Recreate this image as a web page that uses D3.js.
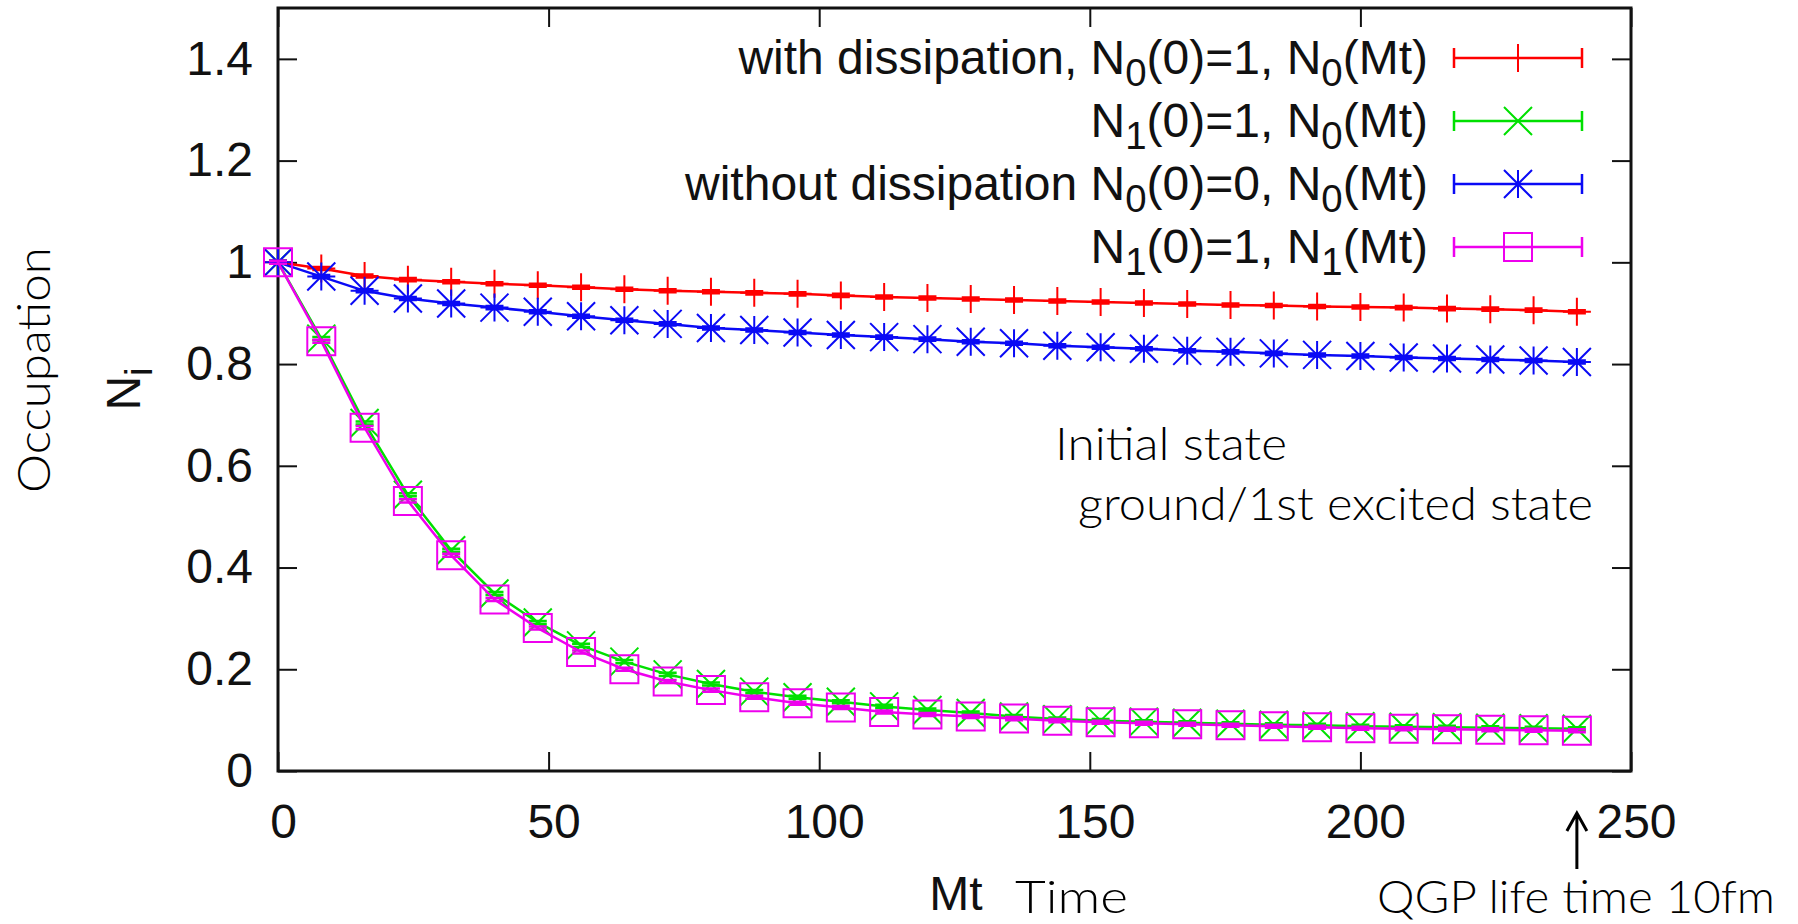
<!DOCTYPE html>
<html>
<head>
<meta charset="utf-8">
<script src="https://cdn.jsdelivr.net/npm/d3@7"></script>
<style>
  body { margin: 0; background: #fff; }
  svg { display: block; }
</style>
</head>
<body>
<script>
// Time grid (Mt) and occupations

var mt = [0, 8, 16, 24, 32, 40, 48, 56, 64, 72, 80, 88, 96, 104, 112, 120,
          128, 136, 144, 152, 160, 168, 176, 184, 192, 200, 208, 216, 224, 232, 240];

var withDissN0 = [1.000, 0.988, 0.973, 0.966, 0.962, 0.958, 0.955, 0.951, 0.947, 0.944,
                  0.942, 0.940, 0.938, 0.935, 0.932, 0.930, 0.928, 0.926, 0.924, 0.922,
                  0.920, 0.918, 0.916, 0.915, 0.913, 0.912, 0.911, 0.909, 0.908, 0.906, 0.903];

var excitedN0 = [1.000, 0.850, 0.684, 0.543, 0.434, 0.349, 0.292, 0.247, 0.215, 0.190,
                 0.171, 0.156, 0.145, 0.136, 0.127, 0.120, 0.114, 0.107, 0.102, 0.099,
                 0.097, 0.095, 0.093, 0.091, 0.090, 0.088, 0.087, 0.086, 0.085, 0.084, 0.083];

var noDissN0 = [1.000, 0.972, 0.944, 0.929, 0.919, 0.911, 0.903, 0.894, 0.886, 0.879,
                0.871, 0.867, 0.862, 0.857, 0.853, 0.849, 0.844, 0.841, 0.836, 0.833,
                0.830, 0.826, 0.824, 0.821, 0.818, 0.816, 0.813, 0.811, 0.809, 0.807, 0.804];

var excitedN1 = [1.000, 0.845, 0.675, 0.531, 0.424, 0.337, 0.281, 0.234, 0.200, 0.176,
                 0.159, 0.145, 0.133, 0.125, 0.116, 0.111, 0.107, 0.103, 0.099, 0.096,
                 0.094, 0.092, 0.090, 0.088, 0.086, 0.084, 0.083, 0.082, 0.081, 0.080, 0.079];

// error bars are tiny in the plot
var errBar = 0.003;

var legendLabels = [
  "with dissipation, N_0(0)=1, N_0(Mt)",
  "N_1(0)=1, N_0(Mt)",
  "without dissipation N_0(0)=0, N_0(Mt)",
  "N_1(0)=1, N_1(Mt)"
];

var xTicks = [0, 50, 100, 150, 200, 250];
var yTicks = [0, 0.2, 0.4, 0.6, 0.8, 1, 1.2, 1.4];

var series = [
  {values: withDissN0, color: "#ff0000", shape: "plus"},
  {values: excitedN0, color: "#00e000", shape: "cross"},
  {values: noDissN0, color: "#0a0af5", shape: "star"},
  {values: excitedN1, color: "#ee00ee", shape: "box"}
];

var width = 1798,
    height = 924;

var plot = {left: 278, right: 1631, top: 8, bottom: 771};
var gnuFont = "'Liberation Sans', Arial, sans-serif";
var pptFont = "Lato, 'Open Sans', sans-serif";

var x = d3.scaleLinear().domain([0, 250]).range([plot.left, plot.right]);
var y = d3.scaleLinear().domain([0, 1.5]).range([plot.bottom, plot.top]);

var svg = d3.select("body")
  .append("svg")
  .attr("width", width)
  .attr("height", height);

svg.append("rect")
  .attr("width", width)
  .attr("height", height)
  .style("fill", "#fff");

// axes, with gnuplot-style inward ticks mirrored on all sides
function styleAxis(g) {
  g.select(".domain").remove();
  g.selectAll(".tick line").attr("stroke", "#111").attr("stroke-width", 2);
  g.selectAll(".tick text")
    .attr("fill", "#111")
    .style("font-family", gnuFont)
    .style("font-size", "48px");
}

svg.append("g")
  .attr("transform", "translate(" + plot.left + ",0)")
  .call(d3.axisLeft(y).tickValues(yTicks).tickSize(-19).tickPadding(25)
    .tickFormat(function(d) { return d3.format("")(+d.toFixed(1)); }))
  .call(styleAxis);

svg.append("g")
  .attr("transform", "translate(" + plot.right + ",0)")
  .call(d3.axisRight(y).tickValues(yTicks).tickSize(-19).tickFormat(""))
  .call(styleAxis);

svg.append("g")
  .attr("transform", "translate(0," + plot.bottom + ")")
  .call(d3.axisBottom(x).tickValues(xTicks).tickSize(-19).tickPadding(33))
  .call(styleAxis)
  .selectAll(".tick text").attr("dx", 5);

svg.append("g")
  .attr("transform", "translate(0," + plot.top + ")")
  .call(d3.axisTop(x).tickValues(xTicks).tickSize(-19).tickFormat(""))
  .call(styleAxis);

svg.append("rect")
  .attr("x", plot.left)
  .attr("y", plot.top)
  .attr("width", plot.right - plot.left)
  .attr("height", plot.bottom - plot.top)
  .style("fill", "none")
  .style("stroke", "#111")
  .style("stroke-width", 3);

// point symbols
var ms = 14;
function markerPath(shape, cx, cy) {
  var plus = "M" + (cx - ms) + "," + cy + "h" + (2 * ms) + "M" + cx + "," + (cy - ms) + "v" + (2 * ms);
  var cross = "M" + (cx - ms) + "," + (cy - ms) + "l" + (2 * ms) + "," + (2 * ms) +
              "M" + (cx - ms) + "," + (cy + ms) + "l" + (2 * ms) + "," + (-2 * ms);
  if (shape == "plus") return plus;
  if (shape == "cross") return cross;
  if (shape == "star") return plus + cross;
  return "M" + (cx - ms) + "," + (cy - ms) + "h" + (2 * ms) + "v" + (2 * ms) + "h" + (-2 * ms) + "Z";
}

var line = d3.line()
  .x(function(d) { return x(d[0]); })
  .y(function(d) { return y(d[1]); });

series.forEach(function(s) {
  var pts = mt.map(function(t, i) { return [t, s.values[i]]; });
  var g = svg.append("g");

  g.append("path")
    .attr("d", line(pts))
    .style("fill", "none")
    .style("stroke", s.color)
    .style("stroke-width", 2.5);

  // error bars with caps
  g.selectAll(".err")
    .data(pts)
    .enter()
    .append("path")
    .attr("d", function(d) {
      var cx = x(d[0]), y0 = y(d[1] - errBar), y1 = y(d[1] + errBar);
      return "M" + cx + "," + y0 + "V" + y1 +
             "M" + (cx - 9) + "," + y0 + "h18M" + (cx - 9) + "," + y1 + "h18";
    })
    .style("fill", "none")
    .style("stroke", s.color)
    .style("stroke-width", 2.5);

  g.selectAll(".pt")
    .data(pts)
    .enter()
    .append("path")
    .attr("d", function(d) { return markerPath(s.shape, x(d[0]), y(d[1])); })
    .style("fill", "none")
    .style("stroke", s.color)
    .style("stroke-width", 2);
});

// text with "_c" subscripts
function subText(sel, str, fs) {
  var parts = str.split(/(_.)/);
  var shift = 0;
  parts.forEach(function(p) {
    if (p === "") return;
    if (p[0] == "_") {
      sel.append("tspan").attr("dy", 12 - shift).style("font-size", (fs * 0.8) + "px").text(p[1]);
      shift = 12;
    } else {
      sel.append("tspan").attr("dy", -shift).text(p);
      shift = 0;
    }
  });
}

// key
var keyRows = [58, 121, 184, 247];
series.forEach(function(s, i) {
  var ry = keyRows[i];
  var k = svg.append("g");
  var t = k.append("text")
    .attr("x", 1428)
    .attr("y", ry + 16)
    .attr("text-anchor", "end")
    .style("font-family", gnuFont)
    .style("font-size", "48px")
    .style("fill", "#111");
  subText(t, legendLabels[i], 48);

  k.append("path")
    .attr("d", "M1454," + ry + "H1582M1454," + (ry - 10) + "v20M1582," + (ry - 10) + "v20")
    .style("stroke", s.color)
    .style("stroke-width", 2.5)
    .style("fill", "none");
  k.append("path")
    .attr("d", markerPath(s.shape, 1518, ry))
    .style("stroke", s.color)
    .style("stroke-width", 2)
    .style("fill", "none");
});

// axis labels
var yl = svg.append("text")
  .attr("transform", "translate(140,389)rotate(-90)")
  .attr("text-anchor", "middle")
  .style("font-family", gnuFont)
  .style("font-size", "48px")
  .style("fill", "#111");
subText(yl, "N_i", 48);

svg.append("text")
  .attr("x", 956)
  .attr("y", 910)
  .attr("text-anchor", "middle")
  .style("font-family", gnuFont)
  .style("font-size", "48px")
  .style("fill", "#111")
  .text("Mt");

// slide annotations (thin sans)
function note(tx, ty, len, str, rot) {
  var t = svg.append("text")
    .style("font-family", pptFont)
    .style("font-weight", 300)
    .style("font-size", "46px")
    .style("fill", "#000")
    .attr("textLength", len)
    .attr("lengthAdjust", "spacingAndGlyphs")
    .text(str);
  if (rot) {
    t.attr("transform", "translate(" + tx + "," + ty + ")rotate(-90)").attr("x", -len / 2);
  } else {
    t.attr("x", tx).attr("y", ty);
  }
}

note(50, 370, 246, "Occupation", true);
note(1015, 913, 113, "Time");
note(1055, 460, 232, "Initial state");
note(1078, 520, 515, "ground/1st excited state");
note(1377, 913, 398, "QGP life time 10fm");

// arrow to the QGP life time
svg.append("path")
  .attr("d", "M" + x(240) + ",869V813M" + (x(240) - 10) + ",831L" + x(240) + ",813L" + (x(240) + 10) + ",831")
  .style("fill", "none")
  .style("stroke", "#000")
  .style("stroke-width", 3);
</script>
</body>
</html>
